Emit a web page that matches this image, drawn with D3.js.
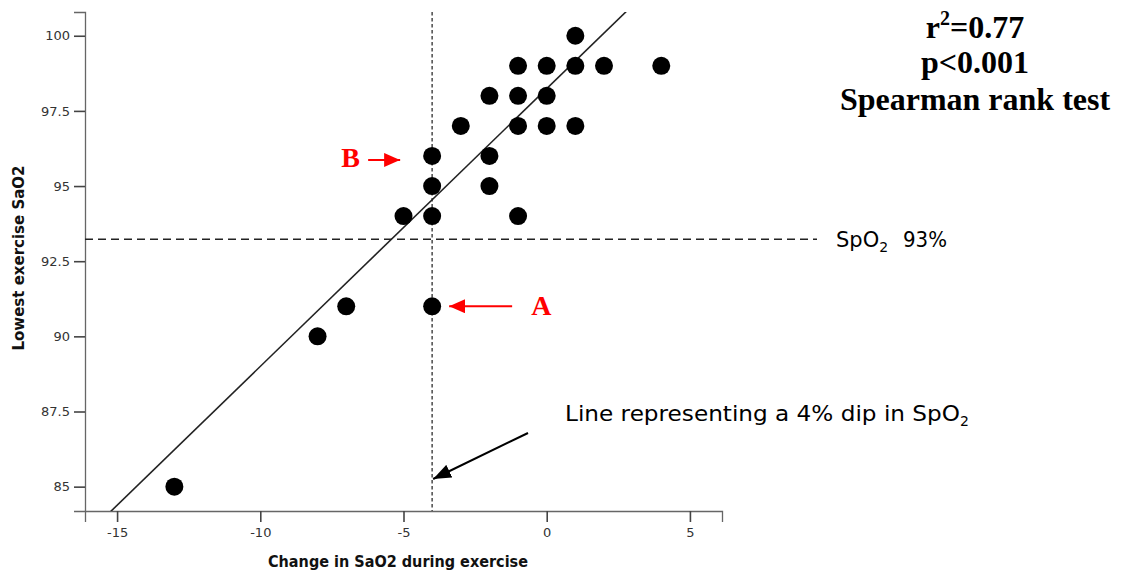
<!DOCTYPE html>
<html><head><meta charset="utf-8">
<script src="https://cdn.jsdelivr.net/npm/d3@7"></script>
<style>
html,body{margin:0;padding:0;background:#fff;}
svg{display:block;}
</style></head>
<body>
<svg id="chart" width="1124" height="574"></svg>
<script>
// ---- data ----
const changeSaO2 = [-13, -8, -7, -4, -5, -4, -1, -4, -2, -4, -2, -3, -1, 0, 1, -2, -1, 0, -1, 0, 1, 2, 4, 1];
const lowestSaO2 = [85, 90, 91, 91, 94, 94, 94, 95, 95, 96, 96, 97, 97, 97, 97, 98, 98, 98, 99, 99, 99, 99, 99, 100];
const xTicks = [-15, -10, -5, 0, 5];
const yTicks = [85, 87.5, 90, 92.5, 95, 97.5, 100];
const xDomain = [-16.12, 6.12];
const yDomain = [84.19, 100.79];
const fitSlope = 0.924;
const fitIntercept = 98.24;
const spo2Threshold = 93.23;
const dipThreshold = -4;
const statsLines = ["=0.77", "p<0.001", "Spearman rank test"];

// ---- layout ----
const svg = d3.select("#chart");
const L = 85, R = 722, T = 12, B = 511;
const x = d3.scaleLinear().domain(xDomain).range([L, R]);
const y = d3.scaleLinear().domain(yDomain).range([B, T]);
const axisFont = "'DejaVu Sans', Verdana, sans-serif";

svg.append("defs").append("clipPath").attr("id", "plotclip")
  .append("rect").attr("x", L).attr("y", T).attr("width", R - L).attr("height", B - T);

// axes
const yAxis = svg.append("g").attr("transform", `translate(${L},0)`)
  .call(d3.axisLeft(y).tickValues(yTicks).tickSize(11).tickPadding(4).tickFormat(d => String(d)));
const xAxis = svg.append("g").attr("transform", `translate(0,${B})`)
  .call(d3.axisBottom(x).tickValues(xTicks).tickSize(11).tickPadding(6).tickFormat(d => String(d)));
[xAxis, yAxis].forEach(g => {
  g.select(".domain").attr("stroke", "#666").attr("stroke-width", 1.3);
  g.selectAll(".tick line").attr("stroke", "#444").attr("stroke-width", 1.6);
  g.selectAll(".tick text").attr("fill", "#333").style("font-family", axisFont).style("font-size", "13px");
});

// axis titles
svg.append("text").attr("x", 398).attr("y", 567).attr("text-anchor", "middle")
  .style("font-family", axisFont).style("font-weight", "bold").style("font-size", "15px").attr("fill", "#111")
  .attr("textLength", 260).attr("lengthAdjust", "spacingAndGlyphs")
  .text("Change in SaO2 during exercise");
svg.append("text").attr("transform", "translate(24,258) rotate(-90)").attr("text-anchor", "middle")
  .style("font-family", axisFont).style("font-weight", "bold").style("font-size", "15px").attr("fill", "#111")
  .attr("textLength", 185).attr("lengthAdjust", "spacingAndGlyphs")
  .text("Lowest exercise SaO2");

// reference lines
svg.append("line").attr("x1", L).attr("x2", 817).attr("y1", y(spo2Threshold)).attr("y2", y(spo2Threshold))
  .attr("stroke", "#222").attr("stroke-width", 1.3).attr("stroke-dasharray", "8,5");
svg.append("line").attr("x1", x(dipThreshold)).attr("x2", x(dipThreshold)).attr("y1", T).attr("y2", B)
  .attr("stroke", "#555").attr("stroke-width", 1.6).attr("stroke-dasharray", "3.5,2.5");

// regression line
svg.append("line").attr("clip-path", "url(#plotclip)")
  .attr("x1", x(xDomain[0])).attr("y1", y(fitIntercept + fitSlope * xDomain[0]))
  .attr("x2", x(xDomain[1])).attr("y2", y(fitIntercept + fitSlope * xDomain[1]))
  .attr("stroke", "#222").attr("stroke-width", 1.6);

// points
svg.append("g").selectAll("circle").data(changeSaO2.map((d, i) => [d, lowestSaO2[i]]))
  .join("circle").attr("cx", d => x(d[0])).attr("cy", d => y(d[1])).attr("r", 9).attr("fill", "#000");

// stats text
const serif = "'Liberation Serif', 'Times New Roman', serif";
const st = svg.append("g").style("font-family", serif).style("font-weight", "bold").style("font-size", "32px").attr("fill", "#000");
const t1 = st.append("text").attr("x", 975).attr("y", 38).attr("text-anchor", "middle");
t1.append("tspan").text("r");
t1.append("tspan").attr("dy", -13).style("font-size", "20px").text("2");
t1.append("tspan").attr("dy", 13).text(statsLines[0]);
st.append("text").attr("x", 975).attr("y", 73).attr("text-anchor", "middle").text(statsLines[1]);
st.append("text").attr("x", 975).attr("y", 110).attr("text-anchor", "middle").text(statsLines[2]);

// SpO2 93% label
const lf = "'DejaVu Sans', Verdana, sans-serif";
const s1 = svg.append("text").attr("x", 836).attr("y", 247).style("font-family", lf).style("font-size", "21px").attr("fill", "#000");
s1.append("tspan").text("SpO");
s1.append("tspan").attr("dy", 5).style("font-size", "14px").text("2");
s1.append("tspan").attr("dy", -5).attr("x", 903).attr("textLength", 44).attr("lengthAdjust", "spacingAndGlyphs").text("93%");

const s2 = svg.append("text").attr("x", 565).attr("y", 421).style("font-family", lf).style("font-size", "21px").attr("fill", "#000");
s2.append("tspan").attr("textLength", 395).attr("lengthAdjust", "spacingAndGlyphs").text("Line representing a 4% dip in SpO");
s2.append("tspan").attr("dy", 5).style("font-size", "14px").text("2");

// arrows
const defs = svg.select("defs");
function marker(id, color, w, h) {
  defs.append("marker").attr("id", id).attr("viewBox", `0 0 ${w} ${h}`).attr("refX", w).attr("refY", h / 2)
    .attr("markerWidth", w).attr("markerHeight", h).attr("markerUnits", "userSpaceOnUse").attr("orient", "auto")
    .append("path").attr("d", `M0,0L${w},${h / 2}L0,${h}Z`).attr("fill", color);
}
marker("arrRed", "#ff0000", 16, 14);
marker("arrBlack", "#000", 18, 14);

// A
const ax = x(dipThreshold), ay = y(91);
svg.append("line").attr("x1", ax + 80).attr("y1", ay).attr("x2", ax + 17).attr("y2", ay)
  .attr("stroke", "#ff0000").attr("stroke-width", 2).attr("marker-end", "url(#arrRed)");
svg.append("text").attr("x", ax + 99).attr("y", ay + 9).style("font-family", serif).style("font-weight", "bold")
  .style("font-size", "28px").attr("fill", "#ff0000").text("A");
// B
const by = y(96) + 4;
svg.append("line").attr("x1", ax - 64).attr("y1", by).attr("x2", ax - 32).attr("y2", by)
  .attr("stroke", "#ff0000").attr("stroke-width", 2).attr("marker-end", "url(#arrRed)");
svg.append("text").attr("x", ax - 91).attr("y", by + 7).style("font-family", serif).style("font-weight", "bold")
  .style("font-size", "28px").attr("fill", "#ff0000").text("B");
// dip arrow
svg.append("line").attr("x1", 528).attr("y1", 433).attr("x2", ax + 1).attr("y2", 479)
  .attr("stroke", "#000").attr("stroke-width", 2).attr("marker-end", "url(#arrBlack)");
</script>
</body></html>
